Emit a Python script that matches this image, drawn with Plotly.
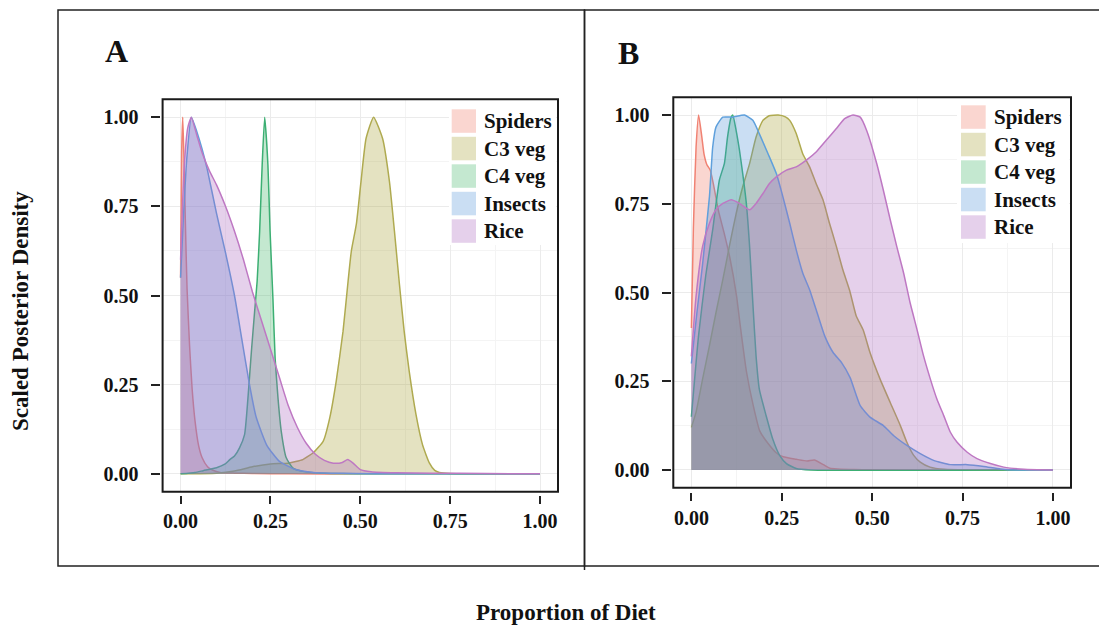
import plotly.graph_objects as go

# ---------------------------------------------------------------
# Scaled posterior densities of diet proportions (two panels)
# ---------------------------------------------------------------
sources = ["Spiders", "C3 veg", "C4 veg", "Insects", "Rice"]
tick_vals = [0, 0.25, 0.5, 0.75, 1.0]
tick_text = ["0.00", "0.25", "0.50", "0.75", "1.00"]

# Panel A
a_spiders_x = [0, 0.003, 0.006, 0.009, 0.013, 0.018, 0.025, 0.032, 0.04, 0.05, 0.06, 0.075, 0.09, 0.11, 0.15, 0.2, 0.3, 0.5, 1.0]
a_spiders_y = [0.55, 0.9, 1.0, 0.9, 0.72, 0.52, 0.36, 0.24, 0.15, 0.08, 0.045, 0.02, 0.01, 0.004, 0.002, 0.001, 0, 0, 0]

a_c3_x = [0, 0.1, 0.15, 0.2, 0.25, 0.3, 0.34, 0.37, 0.397, 0.415, 0.433, 0.452, 0.466, 0.475, 0.489, 0.502, 0.516, 0.537,
          0.562, 0.581, 0.595, 0.609, 0.622, 0.636, 0.655, 0.673, 0.692, 0.707, 0.72, 0.75, 1.0]
a_c3_y = [0, 0.002, 0.008, 0.02, 0.028, 0.03, 0.04, 0.06, 0.092, 0.157, 0.26, 0.40, 0.54, 0.624, 0.70, 0.82, 0.94, 1.0,
          0.94, 0.82, 0.68, 0.53, 0.40, 0.288, 0.166, 0.082, 0.031, 0.01, 0.004, 0.001, 0]

a_c4_x = [0, 0.04, 0.063, 0.1, 0.123, 0.137, 0.15, 0.164, 0.178, 0.1875, 0.197, 0.206, 0.213, 0.22, 0.227, 0.234,
          0.243, 0.249, 0.257, 0.263, 0.271, 0.28, 0.294, 0.312, 0.34, 0.4, 1.0]
a_c4_y = [0, 0.004, 0.009, 0.017, 0.027, 0.04, 0.05, 0.073, 0.11, 0.213, 0.343, 0.455, 0.54, 0.68, 0.866, 1.0,
          0.866, 0.68, 0.49, 0.325, 0.213, 0.12, 0.045, 0.017, 0.007, 0.002, 0]

a_insects_x = [0, 0.008, 0.017, 0.03, 0.045, 0.06, 0.075, 0.1, 0.125, 0.15, 0.17, 0.19, 0.21, 0.24, 0.275, 0.32,
               0.37, 0.42, 0.48, 0.6, 1.0]
a_insects_y = [0.55, 0.72, 0.88, 1.0, 0.96, 0.91, 0.85, 0.73, 0.62, 0.5, 0.38, 0.26, 0.16, 0.08, 0.035, 0.012,
               0.004, 0.002, 0.001, 0, 0]

a_rice_x = [0, 0.01, 0.02, 0.03, 0.045, 0.06, 0.08, 0.1, 0.125, 0.15, 0.175, 0.2, 0.225, 0.25, 0.275, 0.3, 0.325,
            0.35, 0.375, 0.4, 0.425, 0.45, 0.465, 0.48, 0.5, 0.53, 0.6, 0.7, 0.85, 1.0]
a_rice_y = [0.6, 0.86, 0.97, 1.0, 0.95, 0.9, 0.85, 0.81, 0.75, 0.68, 0.6, 0.51, 0.43, 0.35, 0.27, 0.19, 0.13,
            0.085, 0.055, 0.038, 0.03, 0.032, 0.04, 0.03, 0.012, 0.006, 0.003, 0.002, 0.001, 0.0]

# Panel B
b_spiders_x = [0, 0.0055, 0.013, 0.02, 0.0287, 0.035, 0.043, 0.052, 0.062, 0.075, 0.09, 0.106, 0.125, 0.134, 0.1525,
               0.171, 0.189, 0.208, 0.236, 0.254, 0.29, 0.32, 0.34, 0.365, 0.383, 0.45, 1.0]
b_spiders_y = [0.40, 0.68, 0.91, 1.0, 0.94, 0.89, 0.86, 0.845, 0.8, 0.73, 0.67, 0.60, 0.49, 0.416, 0.276,
               0.182, 0.11, 0.08, 0.047, 0.037, 0.03, 0.025, 0.028, 0.015, 0.005, 0.001, 0]

b_c3_x = [0, 0.013, 0.031, 0.05, 0.068, 0.087, 0.105, 0.124, 0.142, 0.161, 0.179, 0.198, 0.215, 0.24, 0.26, 0.272,
          0.29, 0.308, 0.327, 0.345, 0.364, 0.382, 0.401, 0.419, 0.438, 0.456, 0.475, 0.494, 0.522, 0.55, 0.578,
          0.596, 0.615, 0.633, 0.66, 0.7, 1.0]
b_c3_y = [0.12, 0.163, 0.256, 0.35, 0.443, 0.536, 0.63, 0.723, 0.798, 0.863, 0.938, 0.985, 0.998, 1.0, 0.995, 0.985,
          0.948, 0.891, 0.854, 0.807, 0.761, 0.695, 0.63, 0.564, 0.505, 0.434, 0.395, 0.331, 0.256, 0.19, 0.125,
          0.078, 0.041, 0.022, 0.008, 0.002, 0]

b_c4_x = [0, 0.02, 0.04, 0.059, 0.0775, 0.0914, 0.1, 0.11, 0.1145, 0.1237, 0.133, 0.142, 0.152, 0.161, 0.17, 0.179,
          0.188, 0.207, 0.225, 0.244, 0.263, 0.29, 0.33, 1.0]
b_c4_y = [0.15, 0.38, 0.55, 0.677, 0.817, 0.864, 0.938, 0.994, 1.0, 0.957, 0.901, 0.835, 0.751, 0.63, 0.47, 0.32,
          0.227, 0.152, 0.087, 0.041, 0.018, 0.004, 0, 0]

b_insects_x = [0, 0.015, 0.031, 0.05, 0.059, 0.068, 0.087, 0.114, 0.147, 0.17, 0.188, 0.212, 0.235, 0.253, 0.272,
               0.29, 0.308, 0.327, 0.345, 0.369, 0.392, 0.415, 0.439, 0.467, 0.494, 0.531, 0.559, 0.596, 0.633,
               0.67, 0.716, 0.763, 0.809, 0.855, 0.9, 1.0]
b_insects_y = [0.30, 0.44, 0.58, 0.77, 0.91, 0.966, 0.994, 0.994, 1.0, 0.985, 0.947, 0.891, 0.835, 0.77, 0.695,
               0.62, 0.555, 0.508, 0.452, 0.377, 0.331, 0.303, 0.26, 0.181, 0.149, 0.125, 0.097, 0.069, 0.046,
               0.027, 0.015, 0.015, 0.01, 0.003, 0.0, 0]

b_rice_x = [0, 0.013, 0.031, 0.05, 0.068, 0.087, 0.11, 0.133, 0.161, 0.179, 0.198, 0.216, 0.235, 0.263, 0.29, 0.318,
            0.345, 0.373, 0.401, 0.424, 0.447, 0.467, 0.485, 0.513, 0.531, 0.55, 0.568, 0.587, 0.605, 0.624, 0.642,
            0.661, 0.679, 0.698, 0.716, 0.735, 0.763, 0.79, 0.827, 0.864, 0.92, 1.0]
b_rice_y = [0.32, 0.49, 0.63, 0.695, 0.733, 0.751, 0.761, 0.751, 0.733, 0.751, 0.779, 0.807, 0.826, 0.845, 0.854,
            0.873, 0.896, 0.929, 0.962, 0.99, 1.0, 0.994, 0.956, 0.862, 0.788, 0.705, 0.63, 0.555, 0.471, 0.396,
            0.322, 0.256, 0.2, 0.153, 0.107, 0.078, 0.05, 0.032, 0.018, 0.008, 0.002, 0.0]

panel_a = [(a_spiders_x, a_spiders_y), (a_c3_x, a_c3_y), (a_c4_x, a_c4_y), (a_insects_x, a_insects_y), (a_rice_x, a_rice_y)]
panel_b = [(b_spiders_x, b_spiders_y), (b_c3_x, b_c3_y), (b_c4_x, b_c4_y), (b_insects_x, b_insects_y), (b_rice_x, b_rice_y)]

# fill / outline colours per source
base_rgb = {
    "Spiders": (240, 120, 100),
    "C3 veg": (165, 160, 50),
    "C4 veg": (60, 178, 100),
    "Insects": (80, 145, 215),
    "Rice": (170, 100, 190),
}
line_rgb = {
    "Spiders": (240, 130, 115),
    "C3 veg": (175, 170, 80),
    "C4 veg": (60, 175, 115),
    "Insects": (95, 160, 220),
    "Rice": (190, 120, 195),
}
FILL_ALPHA = 0.3

W, H = 1099, 627
SERIF = "Liberation Serif"


def px(x):
    return x / W


def py(y):
    return 1 - y / H


fig = go.Figure()

for panel, xa, ya in ((panel_a, "x", "y"), (panel_b, "x2", "y2")):
    for name, (xs, ys) in zip(sources, panel):
        r, g, b = base_rgb[name]
        lr, lg, lb = line_rgb[name]
        fig.add_trace(go.Scatter(
            x=xs, y=ys, xaxis=xa, yaxis=ya, mode="lines", name=name,
            line=dict(color=f"rgb({lr},{lg},{lb})", width=1.5, shape="spline", smoothing=0.5),
            fill="tozeroy", fillcolor=f"rgba({r},{g},{b},{FILL_ALPHA})",
            showlegend=False, hoverinfo="skip",
        ))

tick_font = dict(family=SERIF, size=20, color="#111", weight="bold")


def x_axis(domain, pos):
    return dict(
        domain=domain, range=[-0.05, 1.05], anchor="free", position=pos,
        tickmode="array", tickvals=tick_vals, ticktext=tick_text,
        ticks="outside", ticklen=8, tickwidth=1.5, tickcolor="#222",
        tickfont=tick_font, showline=False, zeroline=False,
        showgrid=True, gridcolor="#ebebeb", gridwidth=1,
        minor=dict(dtick=0.125, tick0=0, showgrid=True, gridcolor="#f4f4f4", gridwidth=1),
        fixedrange=True,
    )


def y_axis(domain, pos):
    return dict(
        domain=domain, range=[-0.05, 1.05], anchor="free", position=pos,
        tickmode="array", tickvals=tick_vals, ticktext=tick_text,
        ticks="outside", ticklen=9, tickwidth=1.5, tickcolor="#222",
        tickfont=tick_font, showline=False, zeroline=False, ticklabelstandoff=8,
        showgrid=True, gridcolor="#ebebeb", gridwidth=1,
        minor=dict(dtick=0.125, tick0=0, showgrid=True, gridcolor="#f4f4f4", gridwidth=1),
        fixedrange=True,
    )


# plot-area geometry in pixels: (left, top, right, bottom)
box_a = (162.6, 99.3, 558.0, 491.7)
box_b = (673.3, 97.3, 1071.0, 487.7)

fig.update_layout(
    width=W, height=H, autosize=False,
    margin=dict(l=0, r=0, t=0, b=0),
    paper_bgcolor="white", plot_bgcolor="white",
    xaxis=x_axis([px(box_a[0]), px(box_a[2])], py(495)),
    yaxis=y_axis([py(box_a[3]), py(box_a[1])], px(159.5)),
    xaxis2=x_axis([px(box_b[0]), px(box_b[2])], py(491.5)),
    yaxis2=y_axis([py(box_b[3]), py(box_b[1])], px(670.5)),
)

shapes = []
# outer panel frames
shapes.append(dict(type="rect", xref="paper", yref="paper", x0=px(58), x1=px(584.5), y0=py(566), y1=py(10),
                   line=dict(color="#222", width=1.5), layer="below"))
shapes.append(dict(type="rect", xref="paper", yref="paper", x0=px(584.5), x1=px(1110), y0=py(566), y1=py(10),
                   line=dict(color="#222", width=1.5), layer="below"))
shapes.append(dict(type="line", xref="paper", yref="paper", x0=px(584.5), x1=px(584.5), y0=py(570), y1=py(566),
                   line=dict(color="#222", width=1.5)))

annotations = []

# legends (white key panel over the grid, then one swatch + label per source)
legend_specs = [
    # (bg box, key left, key width, first key top, row step, text left)
    ((449, 100, 556, 245), 451.7, 24.3, 109.3, 27.5, 481.7),
    ((957, 98, 1069, 243), 961.0, 24.7, 105.3, 27.5, 991.7),
]
for (bx0, by0, bx1, by1), kx, kw, ky, step, tx in legend_specs:
    shapes.append(dict(type="rect", xref="paper", yref="paper", x0=px(bx0), x1=px(bx1), y0=py(by1), y1=py(by0),
                       fillcolor="white", line=dict(width=0), layer="above"))
    for i, name in enumerate(sources):
        r, g, b = base_rgb[name]
        top = ky + i * step
        shapes.append(dict(type="rect", xref="paper", yref="paper", x0=px(kx), x1=px(kx + kw),
                           y0=py(top + 23.5), y1=py(top), fillcolor=f"rgba({r},{g},{b},{FILL_ALPHA})",
                           line=dict(width=0), layer="above"))
        annotations.append(dict(text=name, xref="paper", yref="paper", x=px(tx), y=py(top + 12),
                                xanchor="left", yanchor="middle", showarrow=False,
                                font=dict(family=SERIF, size=21, color="#111", weight="bold")))

# plot-area borders
for (l, t, r, b) in (box_a, box_b):
    shapes.append(dict(type="rect", xref="paper", yref="paper", x0=px(l), x1=px(r), y0=py(b), y1=py(t),
                       line=dict(color="#1a1a1a", width=2), layer="above"))

# panel letters
annotations.append(dict(text="A", xref="paper", yref="paper", x=px(103), y=py(51), xanchor="left",
                        yanchor="middle", showarrow=False,
                        font=dict(family=SERIF, size=32, color="#111", weight="bold")))
annotations.append(dict(text="B", xref="paper", yref="paper", x=px(616), y=py(53), xanchor="left",
                        yanchor="middle", showarrow=False,
                        font=dict(family=SERIF, size=32, color="#111", weight="bold")))

# axis titles
annotations.append(dict(text="Scaled Posterior Density", xref="paper", yref="paper", x=px(20), y=py(311),
                        xanchor="center", yanchor="middle", textangle=-90, showarrow=False,
                        font=dict(family=SERIF, size=23, color="#111", weight="bold")))
annotations.append(dict(text="Proportion of Diet", xref="paper", yref="paper", x=px(565.5), y=py(612),
                        xanchor="center", yanchor="middle", showarrow=False,
                        font=dict(family=SERIF, size=23, color="#111", weight="bold")))

fig.update_layout(shapes=shapes, annotations=annotations)

fig.write_html("out.html")
